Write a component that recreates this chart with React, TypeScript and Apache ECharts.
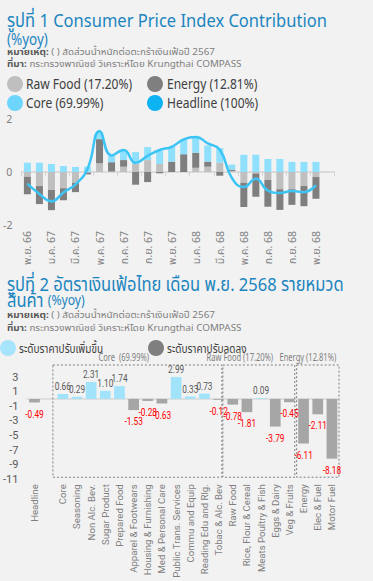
import React, { useEffect, useRef } from 'react';
import * as echarts from 'echarts';

// ---------- Chart 1 data ----------
const months = ['พ.ย. 66', 'ธ.ค. 66', 'ม.ค. 67', 'ก.พ. 67', 'มี.ค. 67', 'เม.ย. 67', 'พ.ค. 67', 'มิ.ย. 67', 'ก.ค. 67', 'ส.ค. 67', 'ก.ย. 67', 'ต.ค. 67', 'พ.ย. 67', 'ธ.ค. 67', 'ม.ค. 68', 'ก.พ. 68', 'มี.ค. 68', 'เม.ย. 68', 'พ.ค. 68', 'มิ.ย. 68', 'ก.ค. 68', 'ส.ค. 68', 'ก.ย. 68', 'ต.ค. 68', 'พ.ย. 68', 'ธ.ค. 68'];
const rawFood = [-0.18, -0.53, -0.68, -0.61, -0.41, -0.03, 0.33, 0.02, 0.2, 0.3, 0.45, 0.3, 0.0, 0.0, 0.16, 0.2, 0.35, 0.04, -0.41, -0.06, -0.3, -0.65, -0.65, -0.53, -0.19, null];
const energy = [-0.66, -0.68, -0.76, -0.46, -0.35, -0.06, 0.91, 0.35, 0.25, -0.48, -0.38, -0.05, 0.39, 0.67, 0.57, 0.19, -0.14, 0.05, -0.91, -0.87, -1.01, -0.78, -0.59, -0.76, -0.82, null];
const core = [0.35, 0.35, 0.3, 0.23, 0.19, 0.2, 0.25, 0.23, 0.35, 0.45, 0.49, 0.5, 0.55, 0.54, 0.58, 0.61, 0.55, 0.19, 0.65, 0.65, 0.49, 0.49, 0.38, 0.38, 0.38, null];
const headline = [-0.44, -0.83, -1.11, -0.77, -0.47, 0.12, 1.54, 0.62, 0.83, 0.35, 0.61, 0.83, 0.95, 1.23, 1.32, 1.08, 0.84, -0.22, -0.57, -0.25, -0.7, -0.79, -0.72, -0.76, -0.49, null];
const seriesNames1 = ['Raw Food (17.20%)', 'Energy (12.81%)', 'Core (69.99%)', 'Headline (100%)'];

// ---------- Chart 2 data ----------
const cats2 = ['Headline', '', 'Core', 'Seasoning', 'Non Alc. Bev.', 'Sugar Product', 'Prepared Food', 'Apparel & Footwears', 'Housing & Furnishing', 'Med & Personal Care', 'Public Trans. Services', 'Commu and Equip', 'Reading Edu and Rlg.', 'Tobac & Alc. Bev', 'Raw Food', 'Rice, Flour & Cereal', 'Meats Poultry & Fish', 'Eggs & Dairy', 'Veg & Fruits', 'Energy', 'Elec & Fuel', 'Motor Fuel'];
const values2 = [-0.49, null, 0.66, 0.29, 2.31, 1.1, 1.74, -1.53, -0.28, -0.63, 2.99, 0.33, 0.73, -0.12, -0.78, -1.81, 0.09, -3.79, -0.45, -6.11, -2.11, -8.18];
const seriesNames2 = ['ระดับราคาปรับเพิ่มขึ้น', 'ระดับราคาปรับลดลง'];
const groupNames = ['Core  (69.99%)', 'Raw Food (17.20%)', 'Energy (12.81%)'];
const groupFrom = [2, 14, 19];
const groupTo = [13, 18, 21];

// ---------- texts ----------
const title1 = 'รูปที่ 1 Consumer Price Index Contribution';
const title2a = 'รูปที่ 2 อัตราเงินเฟ้อไทย เดือน พ.ย. 2568 รายหมวด';
const title2b = 'สินค้า';
const unitText = '(%yoy)';
const noteLabel = 'หมายเหตุ:';
const noteText = ' ( ) สัดส่วนน้ำหนักต่อตะกร้าเงินเฟ้อปี 2567';
const srcLabel = 'ที่มา:';
const srcText = ' กระทรวงพาณิชย์ วิเคราะห์โดย Krungthai COMPASS';

const FONT = '"Noto Sans", "Noto Sans Thai", Roboto, "Liberation Sans", sans-serif';
const NARROW = 'Roboto, "Noto Sans", sans-serif';
const TITLE_COLOR = '#1b85bf';

const C_RAW = '#bfbfbf';
const C_ENERGY = '#7f7f7f';
const C_CORE = '#8ee0fd';
const C_LINE = '#3cc4f5';
const C_UP = '#a0e3fb';
const C_DOWN = '#a6a6a6';

// box edge offsets in slot fractions (style)
const boxPad = [[-0.7, 0.23], [-0.7, 0.38], [-0.49, 0.5]];
const boxLabelAt = [6.3, 14.5, 19.3];

export default function App() {
  const ref = useRef<HTMLDivElement>(null);
  useEffect(() => {
    if (!ref.current) return;
    const chart = echarts.init(ref.current, undefined, { renderer: 'svg' });
    const last = headline.reduce((acc, v, i) => (v != null ? i : acc), 0);
    const headlineData = headline.map((v, i) =>
      i === last
        ? { value: v, label: { show: true, position: 'right', distance: 9, formatter: (p: any) => p.value.toFixed(2), color: '#29b6f0', fontSize: 13.5, fontFamily: FONT } }
        : v
    );
    const option: any = {
      animation: false,
      backgroundColor: '#f2f2f2',
      textStyle: { fontFamily: FONT },
      grid: [
        { left: 17, top: 119, width: 317, height: 106 },
        { left: 23, top: 377, width: 316, height: 111 },
      ],
      xAxis: [
        { type: 'category', gridIndex: 0, position: 'bottom', data: months, axisLine: { onZero: true, lineStyle: { color: '#d4d4d4', width: 1.5 } }, axisTick: { show: true, interval: 1, length: 4, lineStyle: { color: '#d4d4d4' } }, axisLabel: { show: false } },
        { type: 'category', gridIndex: 0, position: 'bottom', data: months, axisLine: { show: false, onZero: false }, axisTick: { show: false }, axisLabel: { interval: 1, rotate: 90, fontSize: 10.5, color: '#808080', margin: 6, fontFamily: FONT } },
        { type: 'category', gridIndex: 1, position: 'bottom', data: cats2, axisLine: { onZero: true, lineStyle: { color: '#d9d9d9', width: 1.5 } }, axisTick: { show: false }, axisLabel: { show: false } },
        { type: 'category', gridIndex: 1, position: 'bottom', data: cats2, axisLine: { show: false, onZero: false }, axisTick: { show: false }, axisLabel: { interval: 0, rotate: 90, fontSize: 9.6, color: '#7f7f7f', margin: 5, fontFamily: NARROW } },
      ],
      yAxis: [
        { type: 'value', gridIndex: 0, min: -2, max: 2, interval: 2, splitLine: { show: false }, axisLine: { show: false }, axisTick: { show: false }, axisLabel: { color: '#808080', fontSize: 10.5, margin: 9 } },
        { type: 'value', gridIndex: 1, min: -11, max: 3, interval: 2, splitLine: { show: false }, axisLine: { show: false }, axisTick: { show: false }, axisLabel: { color: '#595959', fontSize: 11, margin: 9, fontFamily: NARROW } },
      ],
      series: [
        { name: seriesNames1[0], type: 'bar', xAxisIndex: 0, yAxisIndex: 0, stack: 'cpi', barWidth: 7, data: rawFood, itemStyle: { color: C_RAW } },
        { name: seriesNames1[1], type: 'bar', xAxisIndex: 0, yAxisIndex: 0, stack: 'cpi', barWidth: 7, data: energy, itemStyle: { color: C_ENERGY } },
        { name: seriesNames1[2], type: 'bar', xAxisIndex: 0, yAxisIndex: 0, stack: 'cpi', barWidth: 7, data: core, itemStyle: { color: C_CORE } },
        { name: seriesNames1[3], type: 'line', xAxisIndex: 0, yAxisIndex: 0, data: headlineData, smooth: 0.5, symbol: 'none', showSymbol: false, z: 5, lineStyle: { color: C_LINE, width: 2.5 }, itemStyle: { color: C_LINE } },
        { name: seriesNames2[0], type: 'bar', xAxisIndex: 2, yAxisIndex: 1, barWidth: 10.7, barGap: '-100%', data: values2.map((v) => (v != null && v > 0 ? v : null)), itemStyle: { color: C_UP } },
        { name: seriesNames2[1], type: 'bar', xAxisIndex: 2, yAxisIndex: 1, barWidth: 10.7, barGap: '-100%', data: values2.map((v) => (v != null && v < 0 ? v : null)), itemStyle: { color: C_DOWN } },
      ],
    };
    chart.setOption(option);

    // positions derived from the axis scales
    const px = (i: number) => chart.convertToPixel({ xAxisIndex: 2 } as any, i) as number;
    const py = (v: number) => chart.convertToPixel({ yAxisIndex: 1 } as any, v) as number;
    const c0 = px(0);
    const slot = px(1) - c0;
    const xAt = (i: number) => c0 + i * slot;
    const boxTop = py(3) - 12;
    const boxBottom = py(-11) - 2;
    const extra: any[] = [];
    groupNames.forEach((g, k) => {
      const l = xAt(groupFrom[k] + boxPad[k][0]);
      const r = xAt(groupTo[k] + boxPad[k][1]);
      extra.push({ type: 'rect', shape: { x: l, y: boxTop, width: r - l, height: boxBottom - boxTop }, style: { fill: 'none', stroke: '#7f7f7f', lineWidth: 1, lineDash: [2, 2] }, z: 1, silent: true });
      extra.push({ type: 'text', x: xAt(boxLabelAt[k]), y: boxTop - 8, scaleX: 0.72, style: { text: g, fill: '#7f7f7f', fontSize: 10.5, lineHeight: 11, fontFamily: FONT, align: 'center', verticalAlign: 'middle' }, silent: true });
    });
    // data labels of chart 2 (condensed)
    values2.forEach((v, i) => {
      if (v == null) return;
      const pos = v >= 0;
      extra.push({
        type: 'text', x: px(i), y: pos ? py(v) - 2 : py(v) + 5, scaleX: 0.72, z: 10, silent: true,
        style: { text: v.toFixed(2), fill: pos ? '#595959' : '#ff0000', fontSize: 11.5, lineHeight: 12, fontFamily: NARROW, align: 'center', verticalAlign: pos ? 'bottom' : 'top' },
      });
    });

    // legends (circle + condensed text)
    const legendItem = (cx: number, cy: number, color: string, text: string, fs: number, sx: number, tx: number) => [
      { type: 'circle', shape: { cx, cy, r: 8 }, style: { fill: color }, silent: true },
      { type: 'text', x: tx, y: cy, scaleX: sx, style: { text, fill: '#404040', fontSize: fs, lineHeight: fs + 1, fontFamily: FONT, verticalAlign: 'middle' }, silent: true },
    ];
    extra.push(...legendItem(15, 84, C_RAW, seriesNames1[0], 14.5, 0.83, 26));
    extra.push(...legendItem(155, 84, C_ENERGY, seriesNames1[1], 14.5, 0.83, 167));
    extra.push(...legendItem(15, 103, '#6dd5fb', seriesNames1[2], 14.5, 0.83, 26));
    extra.push(...legendItem(155, 103, '#0db2f2', seriesNames1[3], 14.5, 0.83, 167));
    extra.push(...legendItem(8, 348, '#a6e5fb', seriesNames2[0], 13, 0.77, 19));
    extra.push(...legendItem(156, 348, '#7f7f7f', seriesNames2[1], 13, 0.77, 167));

    const noteRich = { b: { fontWeight: 'bold', fill: '#595959', fontSize: 9.5, lineHeight: 9, fontFamily: FONT } };
    const noteStyle = { rich: noteRich, fill: '#808080', fontSize: 9.5, lineHeight: 9, fontFamily: FONT, verticalAlign: 'middle' };
    const texts: any[] = [
      { type: 'text', x: 7, y: 20, scaleX: 0.87, style: { text: title1, fill: TITLE_COLOR, fontSize: 19, lineHeight: 19, fontFamily: FONT, verticalAlign: 'middle' } },
      { type: 'text', x: 7, y: 39, scaleX: 0.87, style: { text: unitText, fill: TITLE_COLOR, fontSize: 15.5, lineHeight: 15, fontFamily: FONT, verticalAlign: 'middle' } },
      { type: 'text', x: 7, y: 51.5, scaleX: 1.04, style: { text: `{b|${noteLabel}}${noteText}`, ...noteStyle } },
      { type: 'text', x: 7, y: 64, scaleX: 1.04, style: { text: `{b|${srcLabel}}${srcText}`, ...noteStyle } },
      { type: 'text', x: 7, y: 284, scaleX: 0.87, style: { text: title2a, fill: TITLE_COLOR, fontSize: 19, lineHeight: 16, fontFamily: FONT, verticalAlign: 'middle' } },
      { type: 'text', x: 7, y: 300, scaleX: 0.87, style: { text: `${title2b} {s|${unitText}}`, rich: { s: { fontSize: 14, lineHeight: 14, fill: TITLE_COLOR, fontFamily: FONT } }, fill: TITLE_COLOR, fontSize: 19, lineHeight: 15, fontFamily: FONT, verticalAlign: 'middle' } },
      { type: 'text', x: 7, y: 314.5, scaleX: 1.04, style: { text: `{b|${noteLabel}}${noteText}`, ...noteStyle } },
      { type: 'text', x: 7, y: 327.5, scaleX: 1.04, style: { text: `{b|${srcLabel}}${srcText}`, ...noteStyle } },
    ];
    chart.setOption({ graphic: [...texts, ...extra] });
    return () => chart.dispose();
  }, []);
  return <div ref={ref} style={{ position: 'fixed', left: 0, top: 0, width: 373, height: 581 }} />;
}
